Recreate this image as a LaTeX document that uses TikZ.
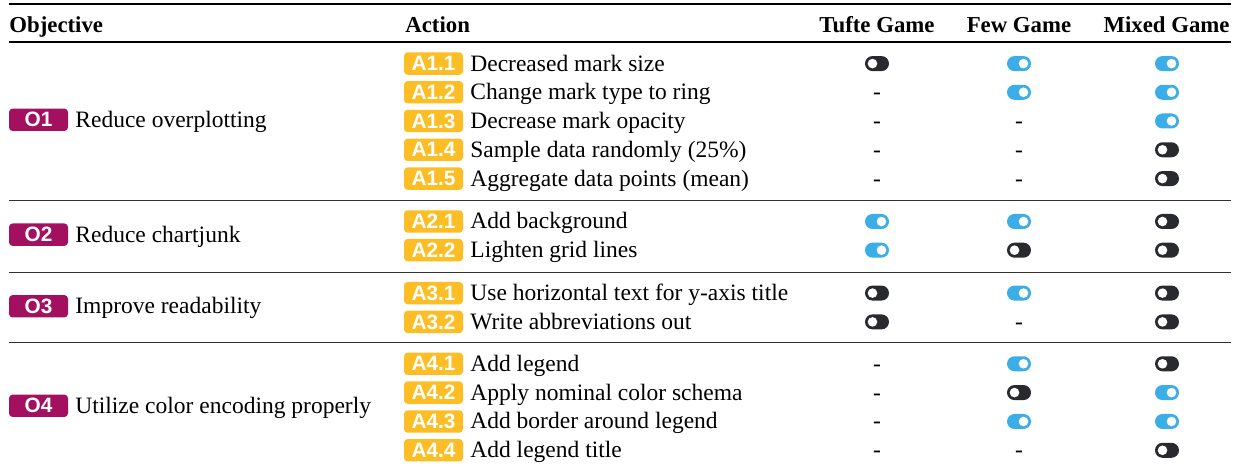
\documentclass[tikz,border=0pt]{standalone}
\usepackage{fontspec}
\setmainfont{Liberation Serif}
\setsansfont{Liberation Sans}

\definecolor{objcol}{RGB}{163,16,96}
\definecolor{actcol}{RGB}{252,190,36}
\definecolor{togblue}{RGB}{59,174,232}
\definecolor{togdark}{RGB}{40,42,46}
\definecolor{rulecol}{RGB}{50,50,50}

\tikzset{
  badge/.style={rounded corners=1.8pt, minimum width=29.5pt, minimum height=11.2pt,
    inner sep=0pt, text=white, font=\sffamily\bfseries\fontsize{10.4}{12}\selectfont},
  objbadge/.style={badge, fill=objcol},
  actbadge/.style={badge, fill=actcol},
  celltext/.style={anchor=base west, inner sep=0pt, font=\fontsize{11.75}{13}\selectfont},
  headtext/.style={inner sep=0pt, font=\bfseries\fontsize{11.4}{13}\selectfont},
  dashcell/.style={anchor=base, inner sep=0pt, font=\fontsize{11.75}{13}\selectfont},
  heavyrule/.style={draw=black, line width=1pt},
  lightrule/.style={draw=rulecol, line width=0.55pt},
  togon/.pic={
    \fill[togblue, rounded corners=3.75pt] (-12,-7.5) rectangle (12,7.5);
    \fill[white] (4.5,0) circle (4.8);
  },
  togoff/.pic={
    \fill[togdark, rounded corners=3.75pt] (-12,-7.5) rectangle (12,7.5);
    \fill[white] (-4.5,0) circle (4.8);
  }
}

% one cell of a game column: 0 = not offered, 1 = off, 2 = on
\newcommand\gamecell[4]{%
  \ifcase#3\relax
    \node[dashcell] (#4) at (#1,#2+7.5) {-};
  \or
    \pic (#4) at (#1,#2) {togoff};
  \or
    \pic (#4) at (#1,#2) {togon};
  \fi
}

\begin{document}
\begin{tikzpicture}[x=0.5pt,y=-0.5pt]
\useasboundingbox (0,0) rectangle (1239,469);

% header
\draw[heavyrule] (9,4) coordinate (tl) -- (1231,4) coordinate (tr);
\node[headtext, anchor=base west] (hobj) at (9,33) {Objective};
\node[headtext, anchor=base west] (hact) at (405,33) {Action};
\node[headtext, anchor=base] (htufte) at (877,33) {Tufte Game};
\node[headtext, anchor=base] (hfew) at (1019,33) {Few Game};
\node[headtext, anchor=base] (hmixed) at (1166.5,33) {Mixed Game};
\draw[heavyrule] (9,42.5) coordinate (hl) -- (1231,42.5) coordinate (hr);

% group separators
\foreach \ry/\n in {200.6/1, 272.2/2, 342.4/3}
  \draw[lightrule] (9,\ry) coordinate (sl\n) -- (1231,\ry) coordinate (sr\n);

% objectives
\foreach \oy/\oid/\otxt in {
    119.8/O1/Reduce overplotting,
    234.7/O2/Reduce chartjunk,
    306.3/O3/Improve readability,
    405.8/O4/Utilize color encoding properly}{
  \node[objbadge] (b\oid) at (38.5,\oy) {\oid};
  \node[celltext] (t\oid) at (75,\oy+7.5) {\otxt};
}

% actions and the three games
\foreach \ay/\aid/\atxt/\tu/\fe/\mi in {
    63.6/A1.1/Decreased mark size/1/2/2,
    92.3/A1.2/Change mark type to ring/0/2/2,
    121.0/A1.3/Decrease mark opacity/0/0/2,
    149.8/A1.4/Sample data randomly (25\%)/0/0/1,
    178.6/A1.5/Aggregate data points (mean)/0/0/1,
    221.5/A2.1/Add background/2/2/1,
    250.2/A2.2/Lighten grid lines/2/1/1,
    293.1/A3.1/Use horizontal text for y-axis title/1/2/1,
    321.9/A3.2/Write abbreviations out/1/0/1,
    363.8/A4.1/Add legend/0/2/1,
    392.6/A4.2/Apply nominal color schema/0/1/2,
    421.5/A4.3/Add border around legend/0/2/2,
    450.3/A4.4/Add legend title/0/0/1}{
  \node[actbadge] (b\aid) at (433.5,\ay) {\aid};
  \node[celltext] (t\aid) at (470,\ay+7.5) {\atxt};
  \gamecell{877}{\ay}{\tu}{tu\aid}
  \gamecell{1019}{\ay}{\fe}{fe\aid}
  \gamecell{1167}{\ay}{\mi}{mi\aid}
}
\end{tikzpicture}
\end{document}
